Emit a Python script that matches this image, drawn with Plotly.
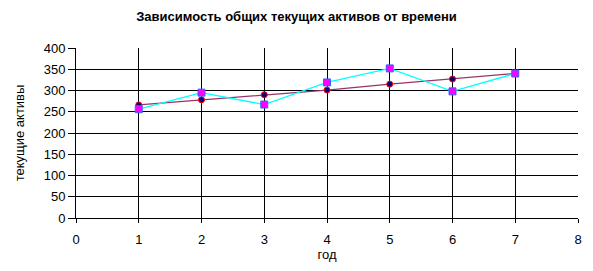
import plotly.graph_objects as go

years = [1, 2, 3, 4, 5, 6, 7]
trend_values = [266, 278, 290, 301, 315, 327, 340]
actual_values = [256, 295, 267, 319, 352, 298, 340]
x_ticks = [0, 1, 2, 3, 4, 5, 6, 7, 8]
y_ticks = [0, 50, 100, 150, 200, 250, 300, 350, 400]

fig = go.Figure()
fig.add_trace(go.Scatter(
    x=years, y=trend_values, mode="lines+markers",
    line=dict(color="#993366", width=1.3),
    marker=dict(symbol="circle", size=6, color="#000080",
                line=dict(color="#FF0000", width=1)),
    showlegend=False,
))
fig.add_trace(go.Scatter(
    x=years, y=actual_values, mode="lines+markers",
    line=dict(color="#00FFFF", width=1.3),
    marker=dict(symbol="square", size=7, color="#FF00FF",
                line=dict(color="#3366FF", width=1)),
    showlegend=False,
))

font = dict(family="Arial, Liberation Sans, sans-serif", size=13, color="#000000")
fig.update_layout(
    width=593, height=271,
    margin=dict(l=76, r=11, t=48, b=53),
    paper_bgcolor="white", plot_bgcolor="white",
    font=font,
    title=dict(text="<b>Зависимость общих текущих активов от времени</b>",
               x=0.5, xanchor="center", y=0.94, yanchor="middle",
               font=dict(family="Arial, Liberation Sans, sans-serif", size=13, color="#000000")),
    xaxis=dict(range=[0, 8], tickvals=x_ticks, showgrid=True, gridcolor="#000000",
               gridwidth=1, showline=True, linecolor="#000000", linewidth=1,
               mirror=False, ticks="outside", ticklen=4, tickcolor="#000000",
               zeroline=False, ticklabelstandoff=5, tickfont=font,
               title=dict(text="год", standoff=2, font=font)),
    yaxis=dict(range=[0, 400], tickvals=y_ticks, showgrid=True, gridcolor="#000000",
               gridwidth=1, showline=True, linecolor="#000000", linewidth=1,
               ticks="outside", ticklen=7, tickcolor="#000000", zeroline=False,
               tickfont=font,
               title=dict(text="текущие активы", standoff=16, font=font)),
)
fig.write_html("out.html")
